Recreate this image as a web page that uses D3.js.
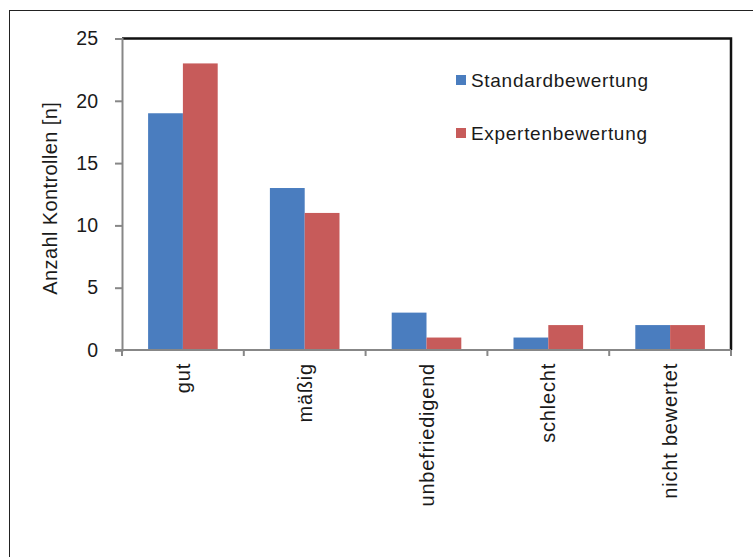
<!DOCTYPE html>
<html>
<head>
<meta charset="utf-8">
<script src="https://cdn.jsdelivr.net/npm/d3@7"></script>
<style>
  html, body { margin: 0; padding: 0; background: #fff; }
  svg { display: block; }
  text { font-family: "Liberation Sans", Arial, sans-serif; fill: #1a1a1a; }
</style>
</head>
<body>
<script>
// Ratings of the inspections, by category
const categories = ["gut", "mäßig", "unbefriedigend", "schlecht", "nicht bewertet"];
const seriesNames = ["Standardbewertung", "Expertenbewertung"];
const standardValues = [19, 13, 3, 1, 2];
const expertValues = [23, 11, 1, 2, 2];
const yTicks = [0, 5, 10, 15, 20, 25];
const yTitle = "Anzahl Kontrollen [n]";
const colors = ["#4a7dbf", "#c75b5a"];

const W = 753, H = 557;
const plot = { left: 122, right: 731, top: 38.5, bottom: 350 };

const svg = d3.select("body").append("svg").attr("width", W).attr("height", H);

// outer chart frame
svg.append("rect")
  .attr("x", 9.5).attr("y", 10.5)
  .attr("width", 780).attr("height", 580)
  .attr("fill", "none").attr("stroke", "#222").attr("stroke-width", 1);

const y = d3.scaleLinear().domain([0, 25]).range([plot.bottom, plot.top]);

// groups: bar gap of 150% of a bar width, as in the usual column chart layout
const gapRatio = 1.5 / 3.5;
const x = d3.scaleBand().domain(categories)
  .range([plot.left, plot.right])
  .paddingInner(gapRatio).paddingOuter(gapRatio / 2);
const xs = d3.scaleBand().domain(seriesNames).range([0, x.bandwidth()]);

const rows = categories.map((c, i) => ({ cat: c, values: [standardValues[i], expertValues[i]] }));

// bars
const g = svg.append("g");
rows.forEach(r => {
  r.values.forEach((v, si) => {
    g.append("rect")
      .attr("x", x(r.cat) + xs(seriesNames[si]))
      .attr("y", y(v))
      .attr("width", xs.bandwidth())
      .attr("height", y(0) - y(v))
      .attr("fill", colors[si]);
  });
});

// plot area border on top and right
svg.append("path")
  .attr("d", `M${plot.left},${plot.top}H${plot.right}V${plot.bottom}`)
  .attr("fill", "none").attr("stroke", "#111").attr("stroke-width", 2.5);

// y axis
const yAxis = d3.axisLeft(y).tickValues(yTicks).tickSize(7).tickPadding(17);
const yg = svg.append("g").attr("transform", `translate(${plot.left},0)`).call(yAxis);
yg.select(".domain").attr("stroke", "#878787").attr("stroke-width", 2);
yg.selectAll(".tick line").attr("stroke", "#878787").attr("stroke-width", 2);
yg.selectAll(".tick text").style("font-size", "19.5px").attr("fill", "#1a1a1a")
  .style("font-family", "'Liberation Sans', Arial, sans-serif");

// x axis: ticks at category boundaries
const step = x.step();
const boundaries = d3.range(categories.length + 1).map(i => plot.left + i * step);
const xg = svg.append("g");
xg.append("line")
  .attr("x1", plot.left - 7).attr("x2", plot.right)
  .attr("y1", plot.bottom).attr("y2", plot.bottom)
  .attr("stroke", "#878787").attr("stroke-width", 2);
xg.selectAll("line.tk").data(boundaries).join("line").attr("class", "tk")
  .attr("x1", d => d).attr("x2", d => d)
  .attr("y1", plot.bottom).attr("y2", plot.bottom + 6)
  .attr("stroke", "#878787").attr("stroke-width", 2);

// category labels, rotated
xg.selectAll("text.cat").data(categories).join("text").attr("class", "cat")
  .attr("transform", d => `translate(${x(d) + x.bandwidth() / 2},${plot.bottom + 13}) rotate(-90)`)
  .attr("text-anchor", "end")
  .attr("dy", "0.35em")
  .style("font-size", "20px")
  .style("letter-spacing", "0.8px")
  .text(d => d);

// y axis title
svg.append("text")
  .attr("transform", `translate(50,${(plot.top + plot.bottom) / 2 + 4}) rotate(-90)`)
  .attr("text-anchor", "middle")
  .attr("dy", "0.35em")
  .style("font-size", "20px")
  .style("letter-spacing", "0.4px")
  .text(yTitle);

// legend
const legend = svg.append("g").attr("transform", "translate(456,75)");
seriesNames.forEach((name, i) => {
  const row = legend.append("g").attr("transform", `translate(0,${i * 53})`);
  row.append("rect").attr("width", 10).attr("height", 10).attr("fill", colors[i]);
  row.append("text").attr("x", 15).attr("y", 12)
    .style("font-size", "19px")
    .style("letter-spacing", "0.7px")
    .text(name);
});
</script>
</body>
</html>
